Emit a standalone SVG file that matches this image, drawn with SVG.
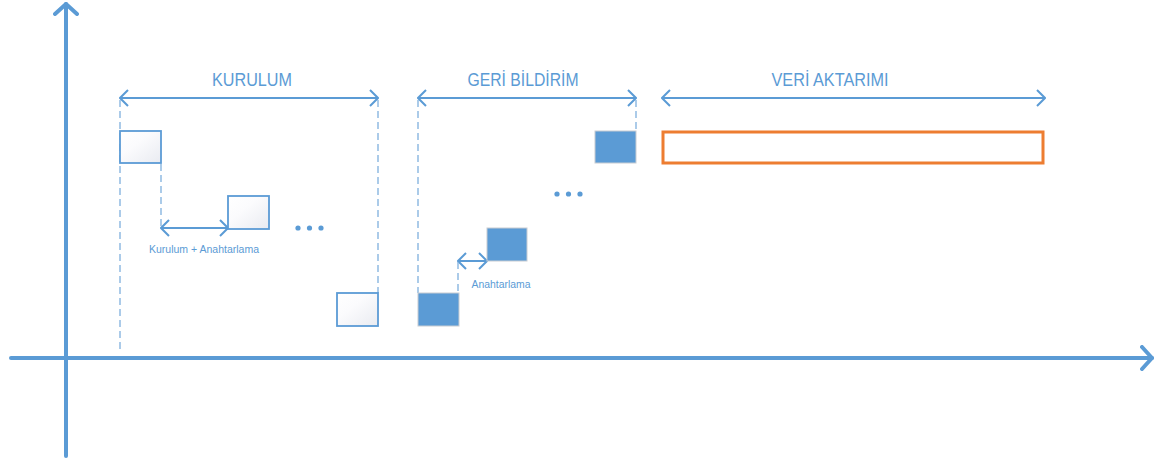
<svg xmlns="http://www.w3.org/2000/svg" width="1158" height="465" viewBox="0 0 1158 465">
  <defs>
    <linearGradient id="paleFill" x1="0" y1="0" x2="1" y2="1">
      <stop offset="0" stop-color="#ffffff"/>
      <stop offset="0.4" stop-color="#fbfbfd"/>
      <stop offset="1" stop-color="#e9ebf1"/>
    </linearGradient>
    <marker id="chev" viewBox="0 0 10 20" refX="9" refY="10" markerWidth="10" markerHeight="20" markerUnits="userSpaceOnUse" orient="auto-start-reverse">
      <path d="M1,2 L9,10 L1,18" fill="none" stroke="#5B9BD5" stroke-width="2"/>
    </marker>
    <marker id="axisHead" viewBox="0 0 14 26" refX="12" refY="13" markerWidth="14" markerHeight="26" markerUnits="userSpaceOnUse" orient="auto">
      <path d="M2,2 L12,13 L2,24" fill="none" stroke="#5B9BD5" stroke-width="4" stroke-linecap="round" stroke-linejoin="round"/>
    </marker>
  </defs>
  <style>
    .axis { stroke: #5B9BD5; stroke-width: 4; stroke-linecap: round; fill: none; }
    .span { stroke: #5B9BD5; stroke-width: 2; fill: none; }
    .guide { stroke: #7FB0DE; stroke-width: 1.3; stroke-dasharray: 7 4; fill: none; }
    .pale { fill: url(#paleFill); stroke: #5B9BD5; stroke-width: 1.8; }
    .solid { fill: #5B9BD5; stroke: #C8CCD2; stroke-width: 1; }
    .data { fill: none; stroke: #ED7D31; stroke-width: 3; }
    .dot { fill: #5B9BD5; }
    .title { font-family: "Liberation Sans", Arial, sans-serif; font-size: 18px; fill: #5B9BD5; text-anchor: middle; }
    .note { font-family: "Liberation Sans", Arial, sans-serif; font-size: 10.5px; fill: #5B9BD5; text-anchor: middle; }
  </style>

  <rect width="1158" height="465" fill="#ffffff"/>

  <!-- axes -->
  <g id="axes">
    <line class="axis" x1="66" y1="456" x2="66" y2="4" marker-end="url(#axisHead)"/>
    <line class="axis" x1="11" y1="358" x2="1152" y2="358" marker-end="url(#axisHead)"/>
  </g>

  <!-- connectors: phase spans, step spacings and guides -->
  <g id="connectors">
    <line class="span" x1="120" y1="98" x2="378" y2="98" marker-start="url(#chev)" marker-end="url(#chev)"/>
    <line class="span" x1="418" y1="98" x2="636" y2="98" marker-start="url(#chev)" marker-end="url(#chev)"/>
    <line class="span" x1="662" y1="98" x2="1045" y2="98" marker-start="url(#chev)" marker-end="url(#chev)"/>
    <line class="span" x1="161" y1="228" x2="228" y2="228" marker-start="url(#chev)" marker-end="url(#chev)"/>
    <line class="span" x1="458" y1="261" x2="487" y2="261" marker-start="url(#chev)" marker-end="url(#chev)"/>

    <line class="guide" x1="120" y1="100" x2="120" y2="353"/>
    <line class="guide" x1="161" y1="164" x2="161" y2="227"/>
    <line class="guide" x1="378" y1="100" x2="378" y2="293"/>
    <line class="guide" x1="418" y1="100" x2="418" y2="293"/>
    <line class="guide" x1="636" y1="100" x2="636" y2="131"/>
    <line class="guide" x1="458" y1="262" x2="458" y2="293"/>
  </g>

  <!-- setup phase -->
  <g id="kurulum">
    <text class="title" x="252" y="86" textLength="80" lengthAdjust="spacingAndGlyphs">KURULUM</text>
    <rect class="pale" x="120" y="131" width="41" height="32"/>
    <rect class="pale" x="228" y="196" width="41" height="33"/>
    <rect class="pale" x="337" y="293" width="41" height="33"/>
    <text class="note" x="204" y="253" textLength="110" lengthAdjust="spacingAndGlyphs">Kurulum + Anahtarlama</text>
    <circle class="dot" cx="298" cy="228" r="2.6"/>
    <circle class="dot" cx="309.5" cy="228" r="2.6"/>
    <circle class="dot" cx="321" cy="228" r="2.6"/>
  </g>

  <!-- feedback phase -->
  <g id="geri-bildirim">
    <text class="title" x="523" y="86" textLength="111" lengthAdjust="spacingAndGlyphs">GERİ BİLDİRİM</text>
    <rect class="solid" x="418" y="293" width="41" height="33"/>
    <rect class="solid" x="487" y="228" width="40" height="33"/>
    <rect class="solid" x="595" y="131" width="41" height="32"/>
    <text class="note" x="501" y="288" textLength="59" lengthAdjust="spacingAndGlyphs">Anahtarlama</text>
    <circle class="dot" cx="557" cy="194" r="2.6"/>
    <circle class="dot" cx="568.5" cy="194" r="2.6"/>
    <circle class="dot" cx="580" cy="194" r="2.6"/>
  </g>

  <!-- data transfer phase -->
  <g id="veri-aktarimi">
    <text class="title" x="830" y="86" textLength="117" lengthAdjust="spacingAndGlyphs">VERİ AKTARIMI</text>
    <rect class="data" x="663" y="132" width="380" height="31"/>
  </g>
</svg>
